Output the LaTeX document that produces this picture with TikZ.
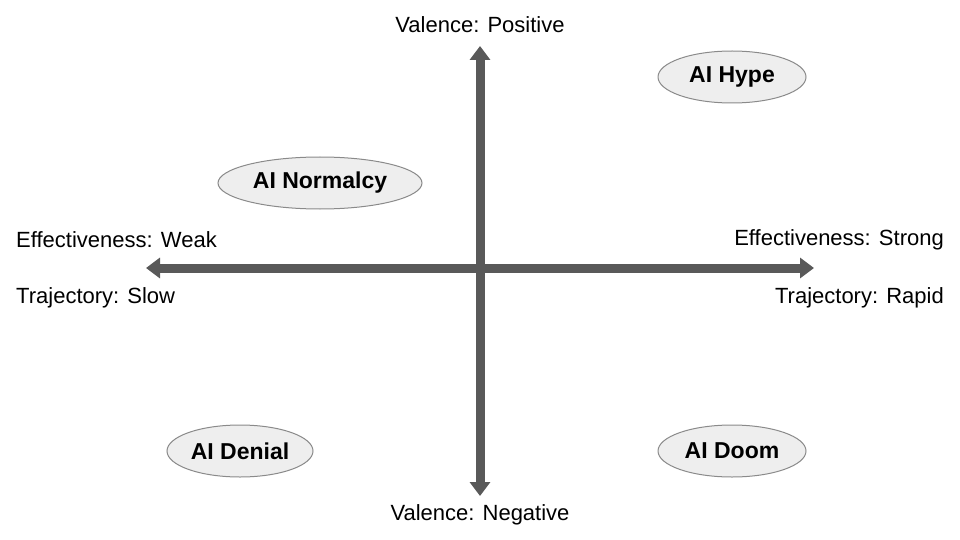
\documentclass[tikz,border=0pt]{standalone}
\usepackage{fontspec}
\setmainfont{Liberation Sans}
\usetikzlibrary{arrows.meta,shapes.geometric}
\definecolor{axisc}{HTML}{595959}
\definecolor{ellf}{HTML}{EEEEEE}
\definecolor{elld}{HTML}{8A8A8A}
\begin{document}
\begin{tikzpicture}[x=1pt,y=-1pt,
  axis/.style={draw=axisc,line width=9pt,{Triangle[width=20pt,length=14pt]}-{Triangle[width=20pt,length=14pt]}},
  lbl/.style={font=\fontsize{22}{26}\selectfont,inner sep=0pt},
  quad/.style={ellipse,draw=elld,fill=ellf,line width=1pt,font=\fontsize{23}{27}\selectfont\bfseries,minimum height=52pt,inner sep=0pt}]
\useasboundingbox (0,0) rectangle (960,540);
\coordinate (top) at (480,46);
\coordinate (bot) at (480,496);
\coordinate (lft) at (146,268);
\coordinate (rgt) at (814,268);
\draw[axis] (top) -- (bot);
\draw[axis] (lft) -- (rgt);
\node[lbl] (vp) at (480,25) {Valence: Positive};
\node[lbl] (vn) at (480,515) {Valence: Negative};
\node[lbl,anchor=west] (ew) at (16,240) {Effectiveness: Weak};
\node[lbl,anchor=west] (ts) at (16,298) {Trajectory: Slow};
\node[lbl,anchor=east] (es) at (944,240) {Effectiveness: Strong};
\node[lbl,anchor=east] (tr) at (944,298) {Trajectory: Rapid};
\node[quad,minimum width=148pt] (hype) at (732,77) {AI Hype};
\node[quad,minimum width=204pt] (norm) at (320,183) {AI Normalcy};
\node[quad,minimum width=146pt] (den) at (240,451) {AI Denial};
\node[quad,minimum width=148pt] (doom) at (732,451) {AI Doom};
\end{tikzpicture}
\end{document}
